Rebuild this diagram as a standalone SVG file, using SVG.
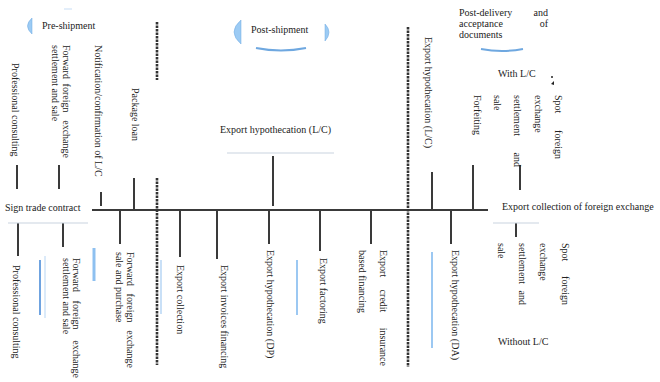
<svg xmlns="http://www.w3.org/2000/svg" width="660" height="382" viewBox="0 0 660 382">
<style>
text{font-family:"Liberation Serif","Times New Roman",serif;font-size:10px;fill:#222}
.t{stroke:#3a3a3a;stroke-width:2;fill:none}
.d{stroke:#333;stroke-width:2.6;stroke-dasharray:2.5 1;fill:none}
.g{stroke:#c9d3df;stroke-width:1;fill:none}
.b{fill:#9ccbf4;stroke:#6fa8e0;stroke-width:0.5}
.bl{stroke:#9cc8f2;stroke-width:2;fill:none}
.m{text-anchor:middle}
.e{text-anchor:end}
</style>
<rect width="660" height="382" fill="#fff"/>
<g id="connectors">
<line class="t" x1="92" y1="210" x2="488" y2="210"/>
<line class="d" x1="157" y1="22" x2="157" y2="80"/>
<line class="d" x1="157" y1="178" x2="157" y2="365"/>
<line class="d" x1="408" y1="27" x2="408" y2="367"/>
<line class="t" x1="17" y1="165" x2="17" y2="189"/>
<line class="t" x1="59" y1="165" x2="59" y2="189"/>
<line class="t" x1="101" y1="192" x2="101" y2="206"/>
<line class="t" x1="134" y1="178" x2="134" y2="210"/>
<line class="t" x1="273" y1="156" x2="273" y2="206"/>
<line class="t" x1="432" y1="172" x2="432" y2="210"/>
<line class="t" x1="473" y1="165" x2="473" y2="210"/>
<line class="t" x1="520" y1="165" x2="520" y2="190"/>
<line class="t" x1="18" y1="223" x2="18" y2="256"/>
<line class="t" x1="63" y1="223" x2="63" y2="247"/>
<line class="t" x1="120" y1="210" x2="120" y2="244"/>
<line class="t" x1="180" y1="210" x2="180" y2="257"/>
<line class="t" x1="217" y1="210" x2="217" y2="259"/>
<line class="t" x1="269" y1="210" x2="269" y2="244"/>
<line class="t" x1="320" y1="210" x2="320" y2="251"/>
<line class="t" x1="371" y1="210" x2="371" y2="244"/>
<line class="t" x1="451" y1="210" x2="451" y2="244"/>
<line class="t" x1="516" y1="223" x2="516" y2="237"/>
<line class="g" x1="8" y1="223" x2="88" y2="223"/>
<line class="g" x1="227" y1="153" x2="334" y2="153"/>
<line class="g" x1="493" y1="223" x2="539" y2="223"/>
</g>
<g id="decor">
<path class="b" d="M32,18 Q23,26 32,34 Z"/>
<line x1="64" y1="9" x2="72" y2="9" stroke="#e3eefa" stroke-width="2"/>
<path class="b" d="M241,20 Q227,32 241,44 Z"/>
<path class="b" d="M325,24 Q333,32 325,41 Z"/>
<path d="M256,48 Q281,53 306,48" stroke="#6fa8e0" stroke-width="2" fill="none"/>
<path d="M481,49 Q502,53 523,49" stroke="#6fa8e0" stroke-width="2" fill="none"/>
<circle cx="552" cy="77" r="1" fill="#222"/>
<path d="M551,84 L554,81 L554,85 Z" fill="#222"/>
<line x1="40" y1="260" x2="40" y2="315" stroke="#6fa3e0" stroke-width="2"/>
<line x1="45" y1="256" x2="45" y2="318" stroke="#cfe3f7" stroke-width="1.5"/>
<line x1="94" y1="248" x2="94" y2="281" stroke="#8ec0f0" stroke-width="3"/>
<line x1="161" y1="260" x2="161" y2="314" stroke="#b7d6f5" stroke-width="1.5"/>
<line class="bl" x1="297" y1="260" x2="297" y2="315"/>
<line class="bl" x1="432" y1="252" x2="432" y2="348"/>
</g>
<g id="pre-shipment"><text x="42" y="29">Pre-shipment</text></g>
<g id="post-shipment"><text x="251" y="33">Post-shipment</text></g>
<g id="post-delivery">
<text y="16"><tspan x="459">Post-delivery</tspan><tspan x="548" class="e">and</tspan></text>
<text y="27"><tspan x="459">acceptance</tspan><tspan x="548" class="e">of</tspan></text>
<text x="459" y="38">documents</text>
</g>
<g id="sign-trade-contract"><text x="5" y="211">Sign trade contract</text></g>
<g id="export-collection-fx"><text x="502" y="210">Export collection of foreign exchange</text></g>
<g id="with-lc"><text x="498" y="77">With L/C</text></g>
<g id="without-lc"><text x="498" y="345">Without L/C</text></g>
<g id="export-hypothecation-lc-h"><text x="220" y="133">Export hypothecation (L/C)</text></g>
<g id="top-professional-consulting"><text transform="translate(12,63) rotate(90)">Professional consulting</text></g>
<g id="top-forward-fx">
<text transform="translate(63,45) rotate(90)"><tspan x="0">Forward</tspan><tspan x="53" class="m">foreign</tspan><tspan x="113" class="e">exchange</tspan></text>
<text transform="translate(52,45) rotate(90)">settlement and sale</text>
</g>
<g id="notification-lc"><text transform="translate(95,45) rotate(90)">Notification/confirmation of L/C</text></g>
<g id="package-loan"><text transform="translate(132,88) rotate(90)">Package loan</text></g>
<g id="export-hypothecation-lc-v"><text transform="translate(425,37) rotate(90)">Export hypothecation (L/C)</text></g>
<g id="forfeiting"><text transform="translate(474,95) rotate(90)">Forfeiting</text></g>
<g id="top-spot-fx">
<text transform="translate(555,95) rotate(90)"><tspan x="0">Spot</tspan><tspan x="64" class="e">foreign</tspan></text>
<text transform="translate(535,95) rotate(90)">exchange</text>
<text transform="translate(514,95) rotate(90)"><tspan x="0">settlement</tspan><tspan x="72" class="e">and</tspan></text>
<text transform="translate(494,95) rotate(90)">sale</text>
</g>
<g id="bottom-professional-consulting"><text transform="translate(13,265) rotate(90)">Professional consulting</text></g>
<g id="bottom-forward-fx">
<text transform="translate(73,258) rotate(90)"><tspan x="0">Forward</tspan><tspan x="57" class="m">foreign</tspan><tspan x="120" class="e">exchange</tspan></text>
<text transform="translate(63,258) rotate(90)">settlement and sale</text>
</g>
<g id="forward-fx-purchase">
<text transform="translate(127,252) rotate(90)"><tspan x="0">Forward</tspan><tspan x="56" class="m">foreign</tspan><tspan x="116" class="e">exchange</tspan></text>
<text transform="translate(116,252) rotate(90)">sale and purchase</text>
</g>
<g id="export-collection"><text transform="translate(177,265) rotate(90)">Export collection</text></g>
<g id="export-invoices"><text transform="translate(221,265) rotate(90)">Export invoices financing</text></g>
<g id="export-hypothecation-dp"><text transform="translate(267,250) rotate(90)">Export hypothecation (DP)</text></g>
<g id="export-factoring"><text transform="translate(320,258) rotate(90)">Export factoring</text></g>
<g id="export-credit-insurance">
<text transform="translate(380,250) rotate(90)"><tspan x="0">Export</tspan><tspan x="51" class="m">credit</tspan><tspan x="116" class="e">insurance</tspan></text>
<text transform="translate(359,250) rotate(90)">based financing</text>
</g>
<g id="export-hypothecation-da"><text transform="translate(452,250) rotate(90)">Export hypothecation (DA)</text></g>
<g id="bottom-spot-fx">
<text transform="translate(562,243) rotate(90)"><tspan x="0">Spot</tspan><tspan x="62" class="e">foreign</tspan></text>
<text transform="translate(540,243) rotate(90)">exchange</text>
<text transform="translate(519,243) rotate(90)"><tspan x="0">settlement</tspan><tspan x="62" class="e">and</tspan></text>
<text transform="translate(498,243) rotate(90)">sale</text>
</g>
</svg>
